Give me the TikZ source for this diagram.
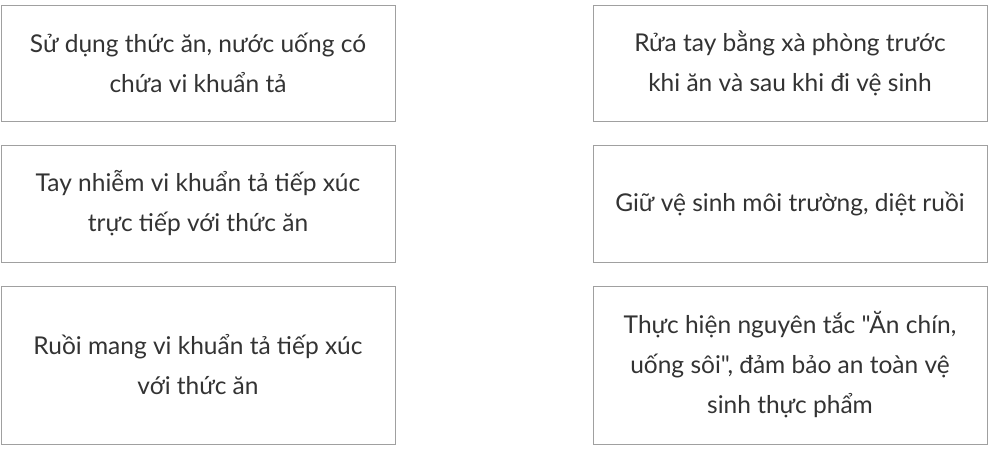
\documentclass[tikz,border=0pt]{standalone}
\usepackage{fontspec}
\newfontfamily\cardfont{Lato}
\definecolor{cardline}{HTML}{A0A0A0}
\definecolor{cardtext}{HTML}{333333}

\tikzset{
  every card/.style={
    rectangle,
    draw=cardline,
    line width=1pt,
    minimum width=394pt,
    inner sep=0pt,
    align=center,
    text=cardtext,
    font=\cardfont\fontsize{24.5}{40}\selectfont
  },
}

\begin{document}
\begin{tikzpicture}[x=1pt, y=-1pt]
  \useasboundingbox (0,0) rectangle (991,448);

  \foreach \l/\y/\h [count=\i] in {
      {Sử dụng thức ăn, nước uống có\\chứa vi khuẩn tả}/63/116,
      {Tay nhiễm vi khuẩn tả tiếp xúc\\trực tiếp với thức ăn}/203.5/117,
      {Ruồi mang vi khuẩn tả tiếp xúc\\với thức ăn}/365/158}
    \node [every card, minimum height=\h] (cause-\i) at (198,\y) {\l};

  \foreach \l/\y/\h [count=\i] in {
      {Rửa tay bằng xà phòng trước\\khi ăn và sau khi đi vệ sinh}/63/116,
      {Giữ vệ sinh môi trường, diệt ruồi}/203.5/117,
      {Thực hiện nguyên tắc "Ăn chín,\\uống sôi", đảm bảo an toàn vệ\\sinh thực phẩm}/365/158}
    \node [every card, minimum height=\h] (step-\i) at (790,\y) {\l};

\end{tikzpicture}
\end{document}
